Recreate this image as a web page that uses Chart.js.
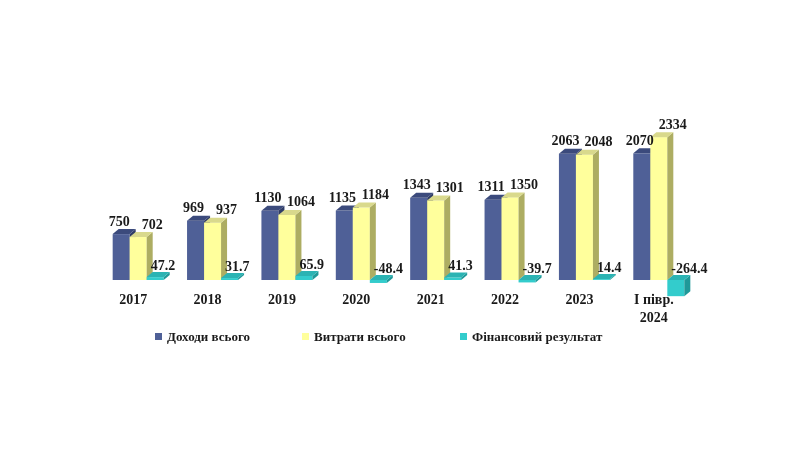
<!DOCTYPE html>
<html>
<head>
<meta charset="utf-8">
<script src="https://cdn.jsdelivr.net/npm/chart.js@4/dist/chart.umd.min.js"></script>
<style>
  html, body { margin: 0; padding: 0; background: #ffffff; }
  #wrap { position: relative; width: 800px; height: 449px; overflow: hidden; }
  canvas { position: absolute; left: 0; top: 0; }
  .leg { position: absolute; top: 329px; font: bold 13px "Liberation Serif", "Times New Roman", serif; color: #1a1a1a; white-space: nowrap; line-height: 16px; }
  .leg i { display: inline-block; width: 7px; height: 7px; margin-right: 5px; vertical-align: 1px; }
</style>
</head>
<body>
<div id="wrap">
  <canvas id="c" width="800" height="449"></canvas>
  <div class="leg" id="l0" style="left:155px"><i></i><span></span></div>
  <div class="leg" id="l1" style="left:302px"><i></i><span></span></div>
  <div class="leg" id="l2" style="left:460px"><i></i><span></span></div>
</div>
<script>
// ---- data ----
const categories = ['2017', '2018', '2019', '2020', '2021', '2022', '2023', ['I півр.', '2024']];
const income   = [750, 969, 1130, 1135, 1343, 1311, 2063, 2070];
const expenses = [702, 937, 1064, 1184, 1301, 1350, 2048, 2334];
const result   = [47.2, 31.7, 65.9, -48.4, 41.3, -39.7, 14.4, -264.4];
const seriesNames = ['Доходи всього', 'Витрати всього', 'Фінансовий результат'];

// ---- styles ----
const faces = [
  { front: '#4f6097', top: '#3b4a7c', side: '#2f3c66' },
  { front: '#ffff9c', top: '#d9d98c', side: '#adad62' },
  { front: '#33cccc', top: '#2bb3b3', side: '#1f9999' }
];
const DX = 6, DY = -5;

// legend (HTML text)
seriesNames.forEach((n, i) => {
  const el = document.getElementById('l' + i);
  el.querySelector('i').style.background = faces[i].front;
  el.querySelector('span').textContent = n;
});

function poly(ctx, pts, color) {
  ctx.beginPath();
  ctx.moveTo(pts[0][0], pts[0][1]);
  for (let k = 1; k < pts.length; k++) ctx.lineTo(pts[k][0], pts[k][1]);
  ctx.closePath();
  ctx.fillStyle = color;
  ctx.fill();
}

const bar3d = {
  id: 'bar3d',
  beforeDatasetDraw() { return false; },
  afterDatasetsDraw(chart) {
    const ctx = chart.ctx;
    ctx.save();
    chart.data.datasets.forEach((ds, di) => {
      const meta = chart.getDatasetMeta(di);
      meta.data.forEach((el) => {
        const p = el.getProps(['x', 'y', 'base', 'width'], true);
        const l = p.x - p.width / 2, r = p.x + p.width / 2;
        const top = Math.min(p.y, p.base), bot = Math.max(p.y, p.base);
        ctx.fillStyle = faces[di].front;
        ctx.fillRect(l, top, r - l, bot - top);
        poly(ctx, [[r, top], [r + DX, top + DY], [r + DX, bot + DY], [r, bot]], faces[di].side);
        poly(ctx, [[l, top], [l + DX, top + DY], [r + DX, top + DY], [r, top]], faces[di].top);
      });
    });
    // value labels
    ctx.font = 'bold 14px "Liberation Serif", "Times New Roman", serif';
    ctx.fillStyle = '#1a1a1a';
    ctx.textBaseline = 'middle';
    chart.data.datasets.forEach((ds, di) => {
      const meta = chart.getDatasetMeta(di);
      meta.data.forEach((el, i) => {
        const p = el.getProps(['x', 'y', 'base', 'width'], true);
        const v = ds.data[i];
        const top = Math.min(p.y, p.base);
        if (di === 0) {
          ctx.textAlign = 'center';
          ctx.fillText(String(v), p.x - 2, top - 12);
        } else if (di === 1) {
          ctx.textAlign = 'center';
          ctx.fillText(String(v), p.x + 14, top - 12);
        } else {
          ctx.textAlign = 'left';
          ctx.fillText(v.toFixed(1), p.x - p.width / 2 + 4, top - 11);
        }
      });
    });
    ctx.restore();
  }
};

new Chart(document.getElementById('c'), {
  type: 'bar',
  data: {
    labels: categories,
    datasets: [
      { label: seriesNames[0], data: income,   backgroundColor: faces[0].front },
      { label: seriesNames[1], data: expenses, backgroundColor: faces[1].front },
      { label: seriesNames[2], data: result,   backgroundColor: faces[2].front }
    ]
  },
  options: {
    responsive: false,
    animation: false,
    devicePixelRatio: 1,
    layout: { padding: { left: 101, right: 104, top: 127, bottom: 110 } },
    datasets: { bar: { categoryPercentage: 0.686, barPercentage: 1.0 } },
    plugins: { legend: { display: false }, tooltip: { enabled: false } },
    scales: {
      x: {
        grid: { display: false, drawTicks: false },
        border: { display: false },
        ticks: {
          padding: 12,
          labelOffset: -5,
          color: '#1a1a1a',
          font: { family: '"Liberation Serif", "Times New Roman", serif', size: 14, weight: 'bold', lineHeight: 1.25 },
          maxRotation: 0,
          autoSkip: false
        }
      },
      y: { display: false, min: 0, max: 2500 }
    }
  },
  plugins: [bar3d]
});
</script>
</body>
</html>
